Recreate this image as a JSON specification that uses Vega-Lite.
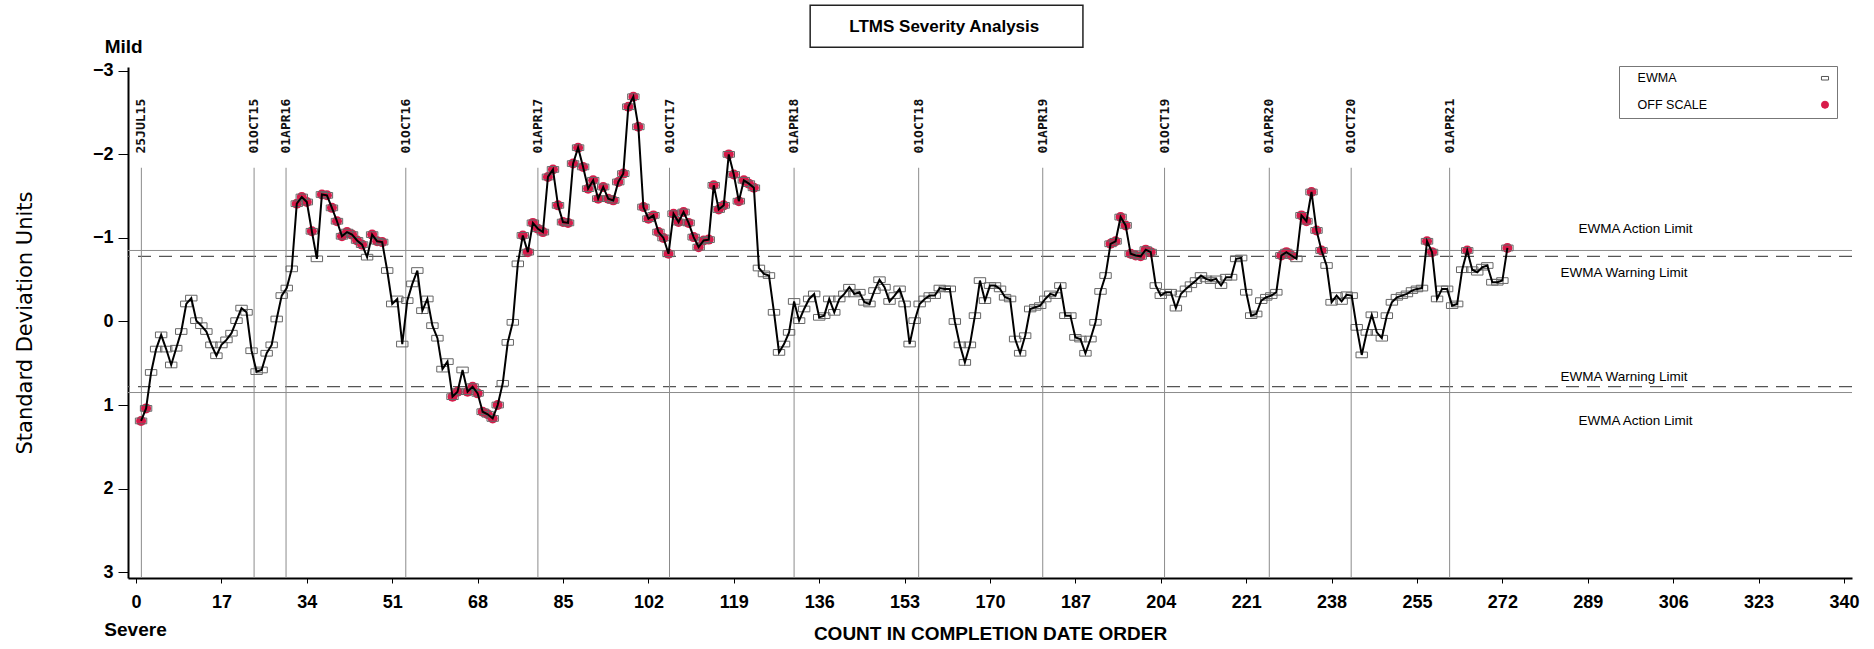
{
"$schema": "https://vega.github.io/schema/vega-lite/v6.json",
"width": 1724,
"height": 511,
"autosize": {"type": "none"},
"padding": {"left": 128, "top": 67, "right": 22, "bottom": 71},
"background": "white",
"config": {"view": {"stroke": null}, "font": "Liberation Sans"},
"datasets": {
"ewma": [
{"n":1,"sdu":1.19},{"n":2,"sdu":1.04},{"n":3,"sdu":0.61},{"n":4,"sdu":0.33},{"n":5,"sdu":0.16},{"n":6,"sdu":0.33},{"n":7,"sdu":0.52},{"n":8,"sdu":0.32},{"n":9,"sdu":0.12},{"n":10,"sdu":-0.21},
{"n":11,"sdu":-0.28},{"n":12,"sdu":-0.01},{"n":13,"sdu":0.05},{"n":14,"sdu":0.12},{"n":15,"sdu":0.28},{"n":16,"sdu":0.41},{"n":17,"sdu":0.28},{"n":18,"sdu":0.22},{"n":19,"sdu":0.14},{"n":20,"sdu":-0.01},
{"n":21,"sdu":-0.16},{"n":22,"sdu":-0.11},{"n":23,"sdu":0.35},{"n":24,"sdu":0.60},{"n":25,"sdu":0.58},{"n":26,"sdu":0.38},{"n":27,"sdu":0.28},{"n":28,"sdu":-0.03},{"n":29,"sdu":-0.31},{"n":30,"sdu":-0.40},
{"n":31,"sdu":-0.63},{"n":32,"sdu":-1.41},{"n":33,"sdu":-1.49},{"n":34,"sdu":-1.43},{"n":35,"sdu":-1.08},{"n":36,"sdu":-0.75},{"n":37,"sdu":-1.52},{"n":38,"sdu":-1.51},{"n":39,"sdu":-1.36},{"n":40,"sdu":-1.20},
{"n":41,"sdu":-1.02},{"n":42,"sdu":-1.07},{"n":43,"sdu":-1.04},{"n":44,"sdu":-0.97},{"n":45,"sdu":-0.92},{"n":46,"sdu":-0.77},{"n":47,"sdu":-1.04},{"n":48,"sdu":-0.96},{"n":49,"sdu":-0.95},{"n":50,"sdu":-0.61},
{"n":51,"sdu":-0.21},{"n":52,"sdu":-0.27},{"n":53,"sdu":0.27},{"n":54,"sdu":-0.25},{"n":55,"sdu":-0.45},{"n":56,"sdu":-0.61},{"n":57,"sdu":-0.13},{"n":58,"sdu":-0.27},{"n":59,"sdu":0.05},{"n":60,"sdu":0.20},
{"n":61,"sdu":0.57},{"n":62,"sdu":0.48},{"n":63,"sdu":0.90},{"n":64,"sdu":0.84},{"n":65,"sdu":0.58},{"n":66,"sdu":0.84},{"n":67,"sdu":0.78},{"n":68,"sdu":0.86},{"n":69,"sdu":1.08},{"n":70,"sdu":1.11},
{"n":71,"sdu":1.16},{"n":72,"sdu":1.00},{"n":73,"sdu":0.74},{"n":74,"sdu":0.25},{"n":75,"sdu":0.01},{"n":76,"sdu":-0.69},{"n":77,"sdu":-1.03},{"n":78,"sdu":-0.83},{"n":79,"sdu":-1.18},{"n":80,"sdu":-1.11},
{"n":81,"sdu":-1.07},{"n":82,"sdu":-1.73},{"n":83,"sdu":-1.82},{"n":84,"sdu":-1.39},{"n":85,"sdu":-1.19},{"n":86,"sdu":-1.18},{"n":87,"sdu":-1.89},{"n":88,"sdu":-2.08},{"n":89,"sdu":-1.85},{"n":90,"sdu":-1.59},
{"n":91,"sdu":-1.69},{"n":92,"sdu":-1.47},{"n":93,"sdu":-1.61},{"n":94,"sdu":-1.47},{"n":95,"sdu":-1.45},{"n":96,"sdu":-1.67},{"n":97,"sdu":-1.77},{"n":98,"sdu":-2.57},{"n":99,"sdu":-2.69},{"n":100,"sdu":-2.33},
{"n":101,"sdu":-1.37},{"n":102,"sdu":-1.23},{"n":103,"sdu":-1.27},{"n":104,"sdu":-1.07},{"n":105,"sdu":-1.00},{"n":106,"sdu":-0.81},{"n":107,"sdu":-1.29},{"n":108,"sdu":-1.19},{"n":109,"sdu":-1.31},{"n":110,"sdu":-1.18},
{"n":111,"sdu":-1.01},{"n":112,"sdu":-0.89},{"n":113,"sdu":-0.97},{"n":114,"sdu":-0.98},{"n":115,"sdu":-1.63},{"n":116,"sdu":-1.34},{"n":117,"sdu":-1.39},{"n":118,"sdu":-2.00},{"n":119,"sdu":-1.76},{"n":120,"sdu":-1.44},
{"n":121,"sdu":-1.69},{"n":122,"sdu":-1.65},{"n":123,"sdu":-1.60},{"n":124,"sdu":-0.64},{"n":125,"sdu":-0.57},{"n":126,"sdu":-0.55},{"n":127,"sdu":-0.11},{"n":128,"sdu":0.37},{"n":129,"sdu":0.27},{"n":130,"sdu":0.13},
{"n":131,"sdu":-0.24},{"n":132,"sdu":-0.01},{"n":133,"sdu":-0.15},{"n":134,"sdu":-0.27},{"n":135,"sdu":-0.33},{"n":136,"sdu":-0.05},{"n":137,"sdu":-0.07},{"n":138,"sdu":-0.27},{"n":139,"sdu":-0.11},{"n":140,"sdu":-0.27},
{"n":141,"sdu":-0.33},{"n":142,"sdu":-0.41},{"n":143,"sdu":-0.33},{"n":144,"sdu":-0.35},{"n":145,"sdu":-0.23},{"n":146,"sdu":-0.21},{"n":147,"sdu":-0.37},{"n":148,"sdu":-0.50},{"n":149,"sdu":-0.41},{"n":150,"sdu":-0.24},
{"n":151,"sdu":-0.31},{"n":152,"sdu":-0.39},{"n":153,"sdu":-0.21},{"n":154,"sdu":0.27},{"n":155,"sdu":-0.01},{"n":156,"sdu":-0.21},{"n":157,"sdu":-0.27},{"n":158,"sdu":-0.31},{"n":159,"sdu":-0.31},{"n":160,"sdu":-0.40},
{"n":161,"sdu":-0.39},{"n":162,"sdu":-0.39},{"n":163,"sdu":0.00},{"n":164,"sdu":0.28},{"n":165,"sdu":0.49},{"n":166,"sdu":0.28},{"n":167,"sdu":-0.07},{"n":168,"sdu":-0.49},{"n":169,"sdu":-0.25},{"n":170,"sdu":-0.43},
{"n":171,"sdu":-0.43},{"n":172,"sdu":-0.39},{"n":173,"sdu":-0.29},{"n":174,"sdu":-0.27},{"n":175,"sdu":0.21},{"n":176,"sdu":0.38},{"n":177,"sdu":0.17},{"n":178,"sdu":-0.15},{"n":179,"sdu":-0.17},{"n":180,"sdu":-0.19},
{"n":181,"sdu":-0.27},{"n":182,"sdu":-0.33},{"n":183,"sdu":-0.31},{"n":184,"sdu":-0.43},{"n":185,"sdu":-0.07},{"n":186,"sdu":-0.07},{"n":187,"sdu":0.19},{"n":188,"sdu":0.21},{"n":189,"sdu":0.38},{"n":190,"sdu":0.21},
{"n":191,"sdu":0.01},{"n":192,"sdu":-0.36},{"n":193,"sdu":-0.55},{"n":194,"sdu":-0.93},{"n":195,"sdu":-0.96},{"n":196,"sdu":-1.25},{"n":197,"sdu":-1.15},{"n":198,"sdu":-0.81},{"n":199,"sdu":-0.79},{"n":200,"sdu":-0.78},
{"n":201,"sdu":-0.86},{"n":202,"sdu":-0.83},{"n":203,"sdu":-0.43},{"n":204,"sdu":-0.31},{"n":205,"sdu":-0.35},{"n":206,"sdu":-0.35},{"n":207,"sdu":-0.16},{"n":208,"sdu":-0.33},{"n":209,"sdu":-0.39},{"n":210,"sdu":-0.44},
{"n":211,"sdu":-0.49},{"n":212,"sdu":-0.55},{"n":213,"sdu":-0.51},{"n":214,"sdu":-0.49},{"n":215,"sdu":-0.51},{"n":216,"sdu":-0.43},{"n":217,"sdu":-0.53},{"n":218,"sdu":-0.53},{"n":219,"sdu":-0.75},{"n":220,"sdu":-0.76},
{"n":221,"sdu":-0.35},{"n":222,"sdu":-0.07},{"n":223,"sdu":-0.09},{"n":224,"sdu":-0.25},{"n":225,"sdu":-0.29},{"n":226,"sdu":-0.31},{"n":227,"sdu":-0.35},{"n":228,"sdu":-0.79},{"n":229,"sdu":-0.83},{"n":230,"sdu":-0.79},
{"n":231,"sdu":-0.75},{"n":232,"sdu":-1.27},{"n":233,"sdu":-1.20},{"n":234,"sdu":-1.55},{"n":235,"sdu":-1.09},{"n":236,"sdu":-0.85},{"n":237,"sdu":-0.67},{"n":238,"sdu":-0.23},{"n":239,"sdu":-0.31},{"n":240,"sdu":-0.24},
{"n":241,"sdu":-0.32},{"n":242,"sdu":-0.31},{"n":243,"sdu":0.07},{"n":244,"sdu":0.40},{"n":245,"sdu":0.13},{"n":246,"sdu":-0.08},{"n":247,"sdu":0.13},{"n":248,"sdu":0.20},{"n":249,"sdu":-0.07},{"n":250,"sdu":-0.23},
{"n":251,"sdu":-0.29},{"n":252,"sdu":-0.31},{"n":253,"sdu":-0.33},{"n":254,"sdu":-0.37},{"n":255,"sdu":-0.39},{"n":256,"sdu":-0.40},{"n":257,"sdu":-0.96},{"n":258,"sdu":-0.83},{"n":259,"sdu":-0.27},{"n":260,"sdu":-0.39},
{"n":261,"sdu":-0.39},{"n":262,"sdu":-0.19},{"n":263,"sdu":-0.21},{"n":264,"sdu":-0.62},{"n":265,"sdu":-0.85},{"n":266,"sdu":-0.62},{"n":267,"sdu":-0.59},{"n":268,"sdu":-0.65},{"n":269,"sdu":-0.67},{"n":270,"sdu":-0.47},
{"n":271,"sdu":-0.47},{"n":272,"sdu":-0.49},{"n":273,"sdu":-0.88}
],
"dates": [
{"date":"25JUL15","n":1.06},{"date":"01OCT15","n":23.5},{"date":"01APR16","n":29.86},{"date":"01OCT16","n":53.7},{"date":"01APR17","n":80.0},{"date":"01OCT17","n":106.2},{"date":"01APR18","n":131.0},{"date":"01OCT18","n":155.8},{"date":"01APR19","n":180.5},{"date":"01OCT19","n":204.75},{"date":"01APR20","n":225.6},{"date":"01OCT20","n":241.9},{"date":"01APR21","n":261.5}
],
"limits": [
{"label":"EWMA Action Limit","kind":"action","sdu":-0.85},
{"label":"EWMA Action Limit","kind":"action","sdu":0.85},
{"label":"EWMA Warning Limit","kind":"warning","sdu":-0.78},
{"label":"EWMA Warning Limit","kind":"warning","sdu":0.78}
],
"series": [{"series":"EWMA"},{"series":"OFF SCALE"}]
},
"layer": [
{"data":{"name":"ewma"},
 "mark":{"type":"line","color":"black","strokeWidth":2,"opacity":0},
 "encoding":{"x":{"field":"n","type":"quantitative","scale":{"domain":[-1.6,341.6],"nice":false,"zero":false},
     "axis":{"values":[0,17,34,51,68,85,102,119,136,153,170,187,204,221,238,255,272,289,306,323,340],"format":"d","grid":false,
       "title":"COUNT IN COMPLETION DATE ORDER","titleFont":"Liberation Sans","titleFontSize":19,"titleFontWeight":"bold","titleColor":"black","titleX":862,"titleY":61,"titleAlign":"center","titleBaseline":"alphabetic",
       "labelFont":"Liberation Sans","labelFontSize":18,"labelFontWeight":"bold","labelColor":"black","labelPadding":10,"labelFlush":false,"labelOverlap":false,
       "tickSize":5,"tickColor":"black","tickWidth":1,"domainColor":"black","domainWidth":2}},
   "y":{"field":"sdu","type":"quantitative","scale":{"domain":[-3.046,3.07],"reverse":true,"nice":false,"zero":false},
     "axis":{"values":[-3,-2,-1,0,1,2,3],"format":"d","grid":false,
       "title":"Standard Deviation Units","titleFont":"DejaVu Sans","titleFontSize":21,"titleFontWeight":"normal","titleColor":"black","titleX":-97,"titleY":255.5,"titleAngle":270,"titleAlign":"center","titleBaseline":"alphabetic",
       "labelFont":"Liberation Sans","labelFontSize":18,"labelFontWeight":"bold","labelColor":"black","labelPadding":5,"labelFlush":false,"labelOverlap":false,
       "tickSize":10,"tickColor":"black","tickWidth":1,"domainColor":"black","domainWidth":2}}}},
{"data":{"name":"series"},
 "mark":{"type":"point","filled":true,"opacity":0,"size":1},
 "encoding":{
   "shape":{"field":"series","type":"nominal","scale":{"domain":["EWMA","OFF SCALE"],"range":["M-1,-0.5H1V0.5H-1Z","circle"]},
     "legend":{"title":null,"orient":"none","legendX":1491,"legendY":-1,"strokeColor":"#777777","fillColor":"white","padding":6,"labelFont":"Liberation Sans","labelFontSize":12.5,"labelColor":"black","symbolSize":50,"symbolOffset":193.75,"labelOffset":-193.65,"rowPadding":13.5,"symbolStrokeWidth":1,"symbolOpacity":1}},
   "fill":{"field":"series","type":"nominal","scale":{"domain":["EWMA","OFF SCALE"],"range":["transparent","#d81b4a"]},
     "legend":{"title":null,"orient":"none","legendX":1491,"legendY":-1,"strokeColor":"#777777","fillColor":"white","padding":6,"labelFont":"Liberation Sans","labelFontSize":12.5,"labelColor":"black","symbolSize":50,"symbolOffset":193.75,"labelOffset":-193.65,"rowPadding":13.5,"symbolStrokeWidth":1,"symbolOpacity":1}},
   "stroke":{"field":"series","type":"nominal","scale":{"domain":["EWMA","OFF SCALE"],"range":["#555555","#d81b4a"]},
     "legend":{"title":null,"orient":"none","legendX":1491,"legendY":-1,"strokeColor":"#777777","fillColor":"white","padding":6,"labelFont":"Liberation Sans","labelFontSize":12.5,"labelColor":"black","symbolSize":50,"symbolOffset":193.75,"labelOffset":-193.65,"rowPadding":13.5,"symbolStrokeWidth":1,"symbolOpacity":1}}}},
{"data":{"name":"limits"},"transform":[{"filter":"datum.kind === 'action'"}],
 "mark":{"type":"rule","color":"#8c8c8c","strokeWidth":1},
 "encoding":{"y":{"field":"sdu","type":"quantitative","scale":{"domain":[-3.046,3.07],"reverse":true,"nice":false,"zero":false}}}},
{"data":{"name":"limits"},"transform":[{"filter":"datum.kind === 'warning'"}],
 "mark":{"type":"rule","color":"#555555","strokeWidth":1.3,"strokeDash":[13,8]},
 "encoding":{"y":{"field":"sdu","type":"quantitative","scale":{"domain":[-3.046,3.07],"reverse":true,"nice":false,"zero":false}}}},
{"data":{"name":"dates"},
 "mark":{"type":"rule","color":"#8c8c8c","strokeWidth":1},
 "encoding":{"x":{"field":"n","type":"quantitative","scale":{"domain":[-1.6,341.6],"nice":false,"zero":false}},
   "y":{"datum":-1.84,"type":"quantitative","scale":{"domain":[-3.046,3.07],"reverse":true,"nice":false,"zero":false}},
   "y2":{"datum":3.07}}},
{"data":{"name":"dates"},
 "mark":{"type":"text","angle":270,"align":"left","baseline":"middle","font":"DejaVu Sans Mono","fontWeight":"bold","fontSize":13,"color":"#111111"},
 "encoding":{"x":{"field":"n","type":"quantitative","scale":{"domain":[-1.6,341.6],"nice":false,"zero":false}},
   "y":{"datum":-2.01,"type":"quantitative","scale":{"domain":[-3.046,3.07],"reverse":true,"nice":false,"zero":false}},
   "text":{"field":"date"}}},
{"data":{"name":"ewma"},"transform":[{"filter":"abs(datum.sdu) >= 0.775"}],
 "mark":{"type":"point","filled":true,"shape":"circle","color":"#d81b4a","size":100,"opacity":1},
 "encoding":{"x":{"field":"n","type":"quantitative","scale":{"domain":[-1.6,341.6],"nice":false,"zero":false}},
   "y":{"field":"sdu","type":"quantitative","scale":{"domain":[-3.046,3.07],"reverse":true,"nice":false,"zero":false}}}},
{"data":{"name":"ewma"},
 "mark":{"type":"point","filled":false,"shape":"M-1,-0.5H1V0.5H-1Z","color":"#666666","strokeWidth":1,"size":130,"opacity":1},
 "encoding":{"x":{"field":"n","type":"quantitative","scale":{"domain":[-1.6,341.6],"nice":false,"zero":false}},
   "y":{"field":"sdu","type":"quantitative","scale":{"domain":[-3.046,3.07],"reverse":true,"nice":false,"zero":false}}}},
{"data":{"name":"ewma"},
 "mark":{"type":"line","color":"black","strokeWidth":2},
 "encoding":{"x":{"field":"n","type":"quantitative","scale":{"domain":[-1.6,341.6],"nice":false,"zero":false}},
   "y":{"field":"sdu","type":"quantitative","scale":{"domain":[-3.046,3.07],"reverse":true,"nice":false,"zero":false}}}},
{"data":{"name":"limits"},"transform":[{"filter":"datum.kind === 'action' && datum.sdu < 0"}],
 "mark":{"type":"text","font":"Liberation Sans","fontSize":13.5,"color":"black","baseline":"middle","align":"center","dy":-21},
 "encoding":{"x":{"datum":298.5,"type":"quantitative","scale":{"domain":[-1.6,341.6],"nice":false,"zero":false}},
   "y":{"field":"sdu","type":"quantitative","scale":{"domain":[-3.046,3.07],"reverse":true,"nice":false,"zero":false}},
   "text":{"field":"label"}}},
{"data":{"name":"limits"},"transform":[{"filter":"datum.kind === 'action' && datum.sdu > 0"}],
 "mark":{"type":"text","font":"Liberation Sans","fontSize":13.5,"color":"black","baseline":"middle","align":"center","dy":28.5},
 "encoding":{"x":{"datum":298.5,"type":"quantitative","scale":{"domain":[-1.6,341.6],"nice":false,"zero":false}},
   "y":{"field":"sdu","type":"quantitative","scale":{"domain":[-3.046,3.07],"reverse":true,"nice":false,"zero":false}},
   "text":{"field":"label"}}},
{"data":{"name":"limits"},"transform":[{"filter":"datum.kind === 'warning' && datum.sdu < 0"}],
 "mark":{"type":"text","font":"Liberation Sans","fontSize":13.5,"color":"black","baseline":"middle","align":"center","dy":17},
 "encoding":{"x":{"datum":296.2,"type":"quantitative","scale":{"domain":[-1.6,341.6],"nice":false,"zero":false}},
   "y":{"field":"sdu","type":"quantitative","scale":{"domain":[-3.046,3.07],"reverse":true,"nice":false,"zero":false}},
   "text":{"field":"label"}}},
{"data":{"name":"limits"},"transform":[{"filter":"datum.kind === 'warning' && datum.sdu > 0"}],
 "mark":{"type":"text","font":"Liberation Sans","fontSize":13.5,"color":"black","baseline":"middle","align":"center","dy":-9.4},
 "encoding":{"x":{"datum":296.2,"type":"quantitative","scale":{"domain":[-1.6,341.6],"nice":false,"zero":false}},
   "y":{"field":"sdu","type":"quantitative","scale":{"domain":[-3.046,3.07],"reverse":true,"nice":false,"zero":false}},
   "text":{"field":"label"}}},
{"data":{"values":[{"title":"LTMS Severity Analysis"}]},
 "mark":{"type":"rect","filled":false,"color":"#222222","strokeWidth":1.5},
 "encoding":{"x":{"datum":134.2,"type":"quantitative","scale":{"domain":[-1.6,341.6],"nice":false,"zero":false}},
   "x2":{"datum":188.5},
   "y":{"datum":-3.785,"type":"quantitative","scale":{"domain":[-3.046,3.07],"reverse":true,"nice":false,"zero":false}},
   "y2":{"datum":-3.282}}},
{"data":{"values":[{"title":"LTMS Severity Analysis"}]},
 "mark":{"type":"text","font":"Liberation Sans","fontSize":17,"fontWeight":"bold","color":"black","baseline":"middle","align":"center"},
 "encoding":{"x":{"datum":160.9,"type":"quantitative","scale":{"domain":[-1.6,341.6],"nice":false,"zero":false}},
   "y":{"datum":-3.525,"type":"quantitative","scale":{"domain":[-3.046,3.07],"reverse":true,"nice":false,"zero":false}},
   "text":{"field":"title"}}},
{"data":{"values":[{"end":"Mild"}]},
 "mark":{"type":"text","font":"Liberation Sans","fontSize":19,"fontWeight":"bold","color":"black","baseline":"middle","align":"center"},
 "encoding":{"x":{"datum":-2.45,"type":"quantitative","scale":{"domain":[-1.6,341.6],"nice":false,"zero":false}},
   "y":{"datum":-3.282,"type":"quantitative","scale":{"domain":[-3.046,3.07],"reverse":true,"nice":false,"zero":false}},
   "text":{"field":"end"}}},
{"data":{"values":[{"end":"Severe"}]},
 "mark":{"type":"text","font":"Liberation Sans","fontSize":19,"fontWeight":"bold","color":"black","baseline":"middle","align":"center"},
 "encoding":{"x":{"datum":-0.1,"type":"quantitative","scale":{"domain":[-1.6,341.6],"nice":false,"zero":false}},
   "y":{"datum":3.696,"type":"quantitative","scale":{"domain":[-3.046,3.07],"reverse":true,"nice":false,"zero":false}},
   "text":{"field":"end"}}}
]
}
